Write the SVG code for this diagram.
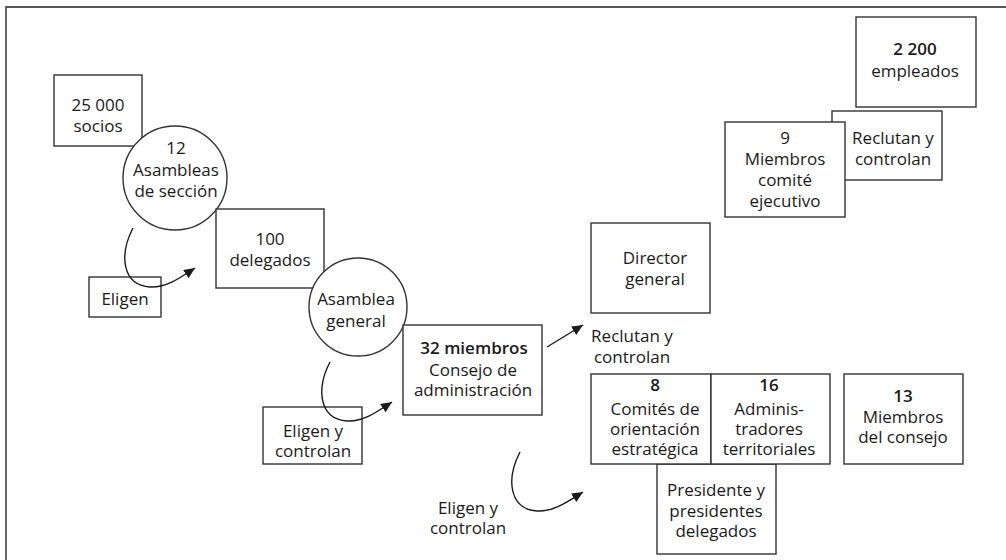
<svg xmlns="http://www.w3.org/2000/svg" width="1006" height="560" viewBox="0 0 1006 560">
<style>
.b{fill:#fff;stroke:#333;stroke-width:1.4}
.t{font-family:"Open Sans","Noto Sans","DejaVu Sans",sans-serif;font-size:17px;fill:#1a1a1a;text-anchor:middle}
.bd{font-weight:600}
.c{fill:none;stroke:#1a1a1a;stroke-width:1.4}
.f{fill:none;stroke:#555;stroke-width:1.8}
</style>
<defs>
<marker id="ah" markerWidth="11" markerHeight="10" refX="11" refY="5" orient="auto" markerUnits="userSpaceOnUse">
<path d="M0,0 L11,5 L0,10 z" fill="#1a1a1a"/>
</marker>
</defs>
<rect width="1006" height="560" fill="#fff"/>
<path class="f" d="M6,560 L6,7 L1006,7"/>

<g id="socios"><rect class="b" x="54" y="75" width="88" height="71"/>
<text class="t" x="98" y="111">25 000</text><text class="t" x="98" y="132">socios</text></g>

<g id="asambleas-seccion"><circle class="b" cx="175" cy="178" r="52"/>
<text class="t" x="176" y="154">12</text><text class="t" x="176" y="176">Asambleas</text><text class="t" x="176" y="197">de sección</text></g>

<g id="delegados"><rect class="b" x="216" y="209" width="108" height="79"/>
<text class="t" x="270" y="245">100</text><text class="t" x="270" y="266">delegados</text></g>

<g id="eligen1"><rect class="b" x="89" y="277" width="72" height="40"/>
<text class="t" x="125" y="305">Eligen</text></g>

<g id="asamblea-general"><circle class="b" cx="358" cy="307" r="49"/>
<text class="t" x="356" y="305">Asamblea</text><text class="t" x="356" y="327">general</text></g>

<g id="consejo"><rect class="b" x="403" y="325" width="139" height="90"/>
<text class="t bd" x="474" y="354">32 miembros</text><text class="t" x="473" y="376">Consejo de</text><text class="t" x="473" y="396">administración</text></g>

<g id="eligen2"><rect class="b" x="263" y="407" width="99" height="57"/>
<text class="t" x="313" y="437">Eligen y</text><text class="t" x="313" y="457">controlan</text></g>

<g id="director"><rect class="b" x="591" y="223" width="119" height="90"/>
<text class="t" x="655" y="264">Director</text><text class="t" x="655" y="285">general</text></g>

<g id="reclutan-top"><rect class="b" x="832" y="111" width="110" height="69"/>
<text class="t" x="893" y="144">Reclutan y</text><text class="t" x="893" y="165">controlan</text></g>

<g id="comite-ejecutivo"><rect class="b" x="725" y="122" width="120" height="95"/>
<text class="t" x="785" y="144">9</text><text class="t" x="785" y="165">Miembros</text><text class="t" x="785" y="186">comité</text><text class="t" x="785" y="207">ejecutivo</text></g>

<g id="empleados"><rect class="b" x="856" y="17" width="120" height="90"/>
<text class="t bd" x="915" y="55">2 200</text><text class="t" x="915" y="77">empleados</text></g>

<g id="reclutan-label"><text class="t" x="632" y="342">Reclutan y</text><text class="t" x="632" y="363">controlan</text></g>

<g id="presidente"><rect class="b" x="657" y="464" width="119" height="90"/>
<text class="t" x="716" y="496">Presidente y</text><text class="t" x="716" y="517">presidentes</text><text class="t" x="716" y="537">delegados</text></g>

<g id="comites"><rect class="b" x="591" y="374" width="120" height="90"/>
<text class="t bd" x="655" y="391">8</text><text class="t" x="655" y="415">Comités de</text><text class="t" x="655" y="435">orientación</text><text class="t" x="655" y="455">estratégica</text></g>

<g id="administradores"><rect class="b" x="711" y="374" width="119" height="90"/>
<text class="t bd" x="769" y="391">16</text><text class="t" x="769" y="415">Adminis-</text><text class="t" x="769" y="435">tradores</text><text class="t" x="769" y="455">territoriales</text></g>

<g id="miembros-consejo"><rect class="b" x="844" y="374" width="119" height="90"/>
<text class="t bd" x="903" y="402">13</text><text class="t" x="903" y="423">Miembros</text><text class="t" x="903" y="443">del consejo</text></g>

<g id="eligen3"><text class="t" x="468" y="514">Eligen y</text><text class="t" x="468" y="534">controlan</text></g>

<g id="connectors">
<path class="c" marker-end="url(#ah)" d="M133,228 C119,255 122,285 150,287 C166,288 180,278 195,268"/>
<path class="c" marker-end="url(#ah)" d="M330,362 C316,389 319,419 347,421 C363,422 377,412 392,402"/>
<path class="c" marker-end="url(#ah)" d="M520,452 C506,479 509,509 537,511 C553,512 567,502 583,492"/>
<path class="c" marker-end="url(#ah)" d="M547,347 L583,325"/>
</g>
</svg>
